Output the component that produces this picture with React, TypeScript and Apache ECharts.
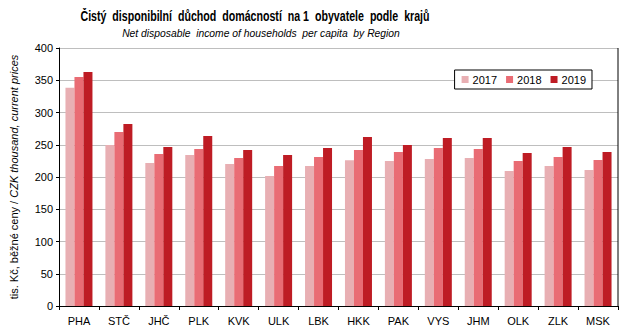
import React, { useEffect, useRef } from "react";
import * as echarts from "echarts";

const categories = ["PHA", "STČ", "JHČ", "PLK", "KVK", "ULK", "LBK", "HKK", "PAK", "VYS", "JHM", "OLK", "ZLK", "MSK"];
const years = ["2017", "2018", "2019"];
const v2017 = [338.5, 249.6, 221.7, 234.0, 220.0, 201.5, 217.0, 226.0, 224.8, 228.0, 229.5, 209.3, 217.0, 210.9];
const v2018 = [355.0, 269.8, 235.7, 243.4, 229.5, 217.0, 231.0, 242.0, 238.8, 245.0, 243.4, 224.8, 231.0, 226.4];
const v2019 = [362.8, 282.0, 246.5, 263.6, 241.9, 234.0, 245.0, 262.0, 249.6, 260.5, 260.5, 237.2, 246.5, 238.8];
const yTicks = [0, 50, 100, 150, 200, 250, 300, 350, 400];
const titleText = "Čistý  disponibilní  důchod  domácností  na 1  obyvatele  podle  krajů";
const subtitleText = "Net disposable  income of households  per capita  by Region";

const colors = ["#E8AFB3", "#E96C74", "#BE1C24"];
const FONT = "Arial, 'Liberation Sans', sans-serif";

export default function App() {
  const ref = useRef<HTMLDivElement>(null);
  useEffect(() => {
    if (!ref.current) return;
    const chart = echarts.init(ref.current, null, { renderer: "svg" });
    const seriesData = [v2017, v2018, v2019];
    chart.setOption({
      animation: false,
      backgroundColor: "#ffffff",
      textStyle: { fontFamily: FONT },
      legend: {
        data: years,
        right: 51,
        top: 70,
        orient: "horizontal",
        itemWidth: 7,
        itemHeight: 7,
        itemGap: 9,
        icon: "rect",
        padding: [4, 6, 4, 7],
        borderColor: "#000",
        borderWidth: 1,
        backgroundColor: "#fff",
        textStyle: { fontFamily: FONT, fontSize: 11, color: "#000", padding: [0, 0, 0, -1] },
      },
      grid: { left: 59, right: 25, top: 48, bottom: 30, containLabel: false },
      xAxis: {
        type: "category",
        data: categories,
        axisLine: { show: true, lineStyle: { color: "#000", width: 1 } },
        axisTick: { show: true, alignWithLabel: false, length: 4, lineStyle: { color: "#000" } },
        axisLabel: { fontFamily: FONT, fontSize: 11, color: "#000", margin: 9, interval: 0 },
        splitLine: { show: false },
      },
      yAxis: {
        type: "value",
        min: 0,
        max: 400,
        interval: 50,
        name: "{a|tis. Kč, běžné ceny / }{b|CZK thousand, current prices}",
        nameLocation: "middle",
        nameGap: 40,
        nameRotate: 90,
        nameTextStyle: {
          rich: {
            a: { fontFamily: FONT, fontSize: 11, color: "#000" },
            b: { fontFamily: FONT, fontSize: 11, color: "#000", fontStyle: "italic" },
          },
        },
        axisLine: { show: true, lineStyle: { color: "#000", width: 1 } },
        axisTick: { show: true, length: 3, lineStyle: { color: "#000" } },
        axisLabel: {
          fontFamily: FONT,
          fontSize: 11,
          color: "#000",
          margin: 6,
          formatter: (v: number) => (yTicks.includes(v) ? String(v) : ""),
        },
        splitLine: { show: true, lineStyle: { color: "#BEBEBE", width: 1 } },
      },
      series: years.map((y, i) => ({
        name: y,
        type: "bar",
        data: seriesData[i],
        barWidth: 9,
        barGap: "0%",
        itemStyle: { color: colors[i] },
        z: 2,
      })),
      graphic: [
        {
          type: "text",
          x: 255,
          y: 9,
          scaleX: 0.76,
          style: {
            text: titleText,
            x: 0,
            y: 0,
            textAlign: "center",
            textVerticalAlign: "top",
            fontFamily: FONT,
            fontSize: 14,
            fontWeight: "bold",
            fill: "#000",
          },
        },
        {
          type: "text",
          x: 261,
          y: 27,
          scaleX: 0.94,
          style: {
            text: subtitleText,
            x: 0,
            y: 0,
            textAlign: "center",
            textVerticalAlign: "top",
            fontFamily: FONT,
            fontSize: 11,
            fontStyle: "italic",
            fill: "#000",
          },
        },
        {
          type: "line",
          shape: { x1: 618, y1: 48, x2: 618, y2: 306 },
          style: { stroke: "#000", lineWidth: 1 },
          z: 10,
        },
      ],
    });
    return () => chart.dispose();
  }, []);
  return <div ref={ref} style={{ width: 643, height: 336, margin: -8 }} />;
}
